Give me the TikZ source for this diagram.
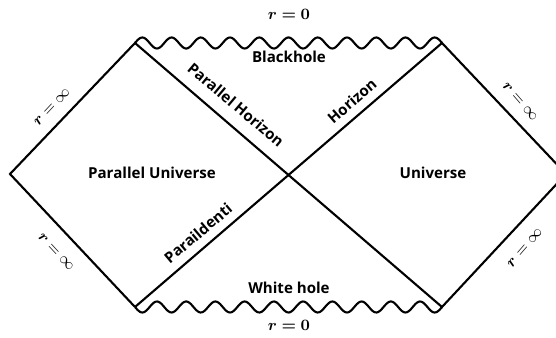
\documentclass[tikz,border=0pt]{standalone}
\usepackage{amsmath,amssymb,bm}
\usepackage{fontspec}
\setsansfont{Open Sans}

\begin{document}
\begin{tikzpicture}[x=.02cm,y=.02cm,line width=1.2pt,
  font=\sffamily\bfseries\fontsize{8.6}{10}\selectfont,
  wavy/.style={domain=0:307,samples=250,smooth},
  mlab/.style={font=\fontsize{9.5}{11}\selectfont}]
\useasboundingbox (0,0) rectangle (556,338);
\clip (0,0) rectangle (556,338);
% corners of the diagram
\coordinate (L)  at (10,164);
\coordinate (TL) at (135,295);
\coordinate (TR) at (442,295);
\coordinate (R)  at (566,164);
\coordinate (BL) at (135,31);
\coordinate (BR) at (442,31);
\coordinate (C)  at (289,164);
% outer edges and horizons
\draw (BL) -- (L) -- (TL) -- (BR) -- (R) -- (TR) -- (BL);
% singularities (10.5 waves each)
\draw[wavy] plot ({135+\x},{295+5.5*sin(\x*12.312)});
\draw[wavy] plot ({135+\x},{31-5.5*sin(\x*12.312)});
\node[mlab] (rtop) at (289,324) {$\boldsymbol{r=0}$};
\node (bh) at (289,281) {Blackhole};
\node (wh) at (289,50) {White hole};
\node[mlab] (rbot) at (289,13) {$\boldsymbol{r=0}$};
% regions
\node (pu) at (152,165) {Parallel Universe};
\node (un) at (433,165) {Universe};
% horizons
\node[rotate=-40] (ph) at (236,233) {Parallel Horizon};
\node[rotate=41] (hz) at (352,237) {Horizon};
\node[rotate=40] (pi) at (198,105) {Paraildenti};
% infinity
\node[mlab,rotate=47] (itl) at (52,231) {$\boldsymbol{r}=\infty$};
\node[mlab,rotate=-49] (itr) at (520,236) {$\boldsymbol{r}=\infty$};
\node[mlab,rotate=-47] (ibl) at (56,86) {$\boldsymbol{r}=\infty$};
\node[mlab,rotate=49] (ibr) at (525,90) {$\boldsymbol{r}=\infty$};
\end{tikzpicture}
\end{document}
